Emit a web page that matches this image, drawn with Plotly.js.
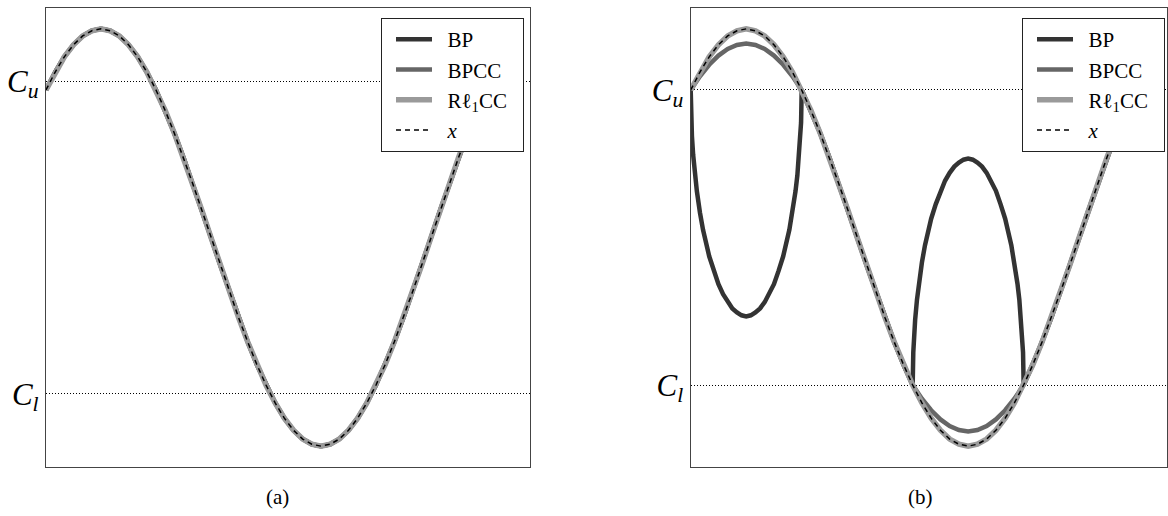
<!DOCTYPE html>
<html>
<head>
<meta charset="utf-8">
<script src="https://cdn.plot.ly/plotly-3.0.1.min.js"></script>
<style>html,body{margin:0;padding:0;background:#fff;}#chart{width:1168px;height:516px;}</style>
</head>
<body>
<div id="chart"></div>
<script>
// phase (degrees) of the sampled signal: one period
const phase = [45,52.5,60,67.5,75,82.5,90,97.5,105,112.5,120,127.5,135,142.5,150,157.5,165,172.5,180,187.5,195,202.5,210,217.5,225,232.5,240,247.5,255,262.5,270,277.5,285,292.5,300,307.5,315,322.5,330,337.5,345,352.5,360,367.5,375,382.5,390,397.5,405];
// true signal x
const xSignal = [0.707,0.793,0.866,0.924,0.966,0.991,1.000,0.991,0.966,0.924,0.866,0.793,0.707,0.609,0.500,0.383,0.259,0.131,0.000,-0.131,-0.259,-0.383,-0.500,-0.609,-0.707,-0.793,-0.866,-0.924,-0.966,-0.991,-1.000,-0.991,-0.966,-0.924,-0.866,-0.793,-0.707,-0.609,-0.500,-0.383,-0.259,-0.131,0.000,0.131,0.259,0.383,0.500,0.609,0.707];
// panel (a): all reconstructions coincide with x
const bpA = [0.707,0.793,0.866,0.924,0.966,0.991,1.000,0.991,0.966,0.924,0.866,0.793,0.707,0.609,0.500,0.383,0.259,0.131,0.000,-0.131,-0.259,-0.383,-0.500,-0.609,-0.707,-0.793,-0.866,-0.924,-0.966,-0.991,-1.000,-0.991,-0.966,-0.924,-0.866,-0.793,-0.707,-0.609,-0.500,-0.383,-0.259,-0.131,0.000,0.131,0.259,0.383,0.500,0.609,0.707];
const bpccA = bpA;
const rl1ccA = bpA;
// panel (b)
const bpccB = [0.707,0.773,0.828,0.872,0.904,0.923,0.930,0.923,0.904,0.872,0.828,0.773,0.707,0.609,0.500,0.383,0.259,0.131,0.000,-0.131,-0.259,-0.383,-0.500,-0.609,-0.707,-0.773,-0.828,-0.872,-0.904,-0.923,-0.930,-0.923,-0.904,-0.872,-0.828,-0.773,-0.707,-0.609,-0.500,-0.383,-0.259,-0.131,0.000,0.131,0.259,0.383,0.500,0.609,0.707];
const rl1ccB = xSignal;
const bpPhaseB = [45,45.5,46,47,48.5,50,52.5,55,60,63.75,67.5,71.25,75,78.75,82.5,86.25,90,93.75,97.5,101.25,105,108.75,112.5,116.25,120,125,127.5,130,131.5,133,134,134.5,135,
  142.5,150,157.5,165,172.5,180,187.5,195,202.5,210,217.5,
  225,225.5,226,227,228.5,230,232.5,235,240,243.75,247.5,251.25,255,258.75,262.5,266.25,270,273.75,277.5,281.25,285,288.75,292.5,296.25,300,305,307.5,310,311.5,313,314,314.5,315,
  322.5,330,337.5,345,352.5,360,367.5,375,382.5,390,397.5,405];
const bpB = [0.707,0.550,0.486,0.395,0.298,0.222,0.119,0.037,-0.090,-0.160,-0.224,-0.272,-0.310,-0.340,-0.359,-0.373,-0.378,-0.373,-0.359,-0.340,-0.310,-0.272,-0.224,-0.160,-0.090,0.037,0.119,0.222,0.298,0.395,0.486,0.550,0.707,
  0.609,0.500,0.383,0.259,0.131,0.000,-0.131,-0.259,-0.383,-0.500,-0.609,
  -0.707,-0.550,-0.486,-0.395,-0.298,-0.222,-0.119,-0.037,0.090,0.160,0.224,0.272,0.310,0.340,0.359,0.373,0.378,0.373,0.359,0.340,0.310,0.272,0.224,0.160,0.090,-0.037,-0.119,-0.222,-0.298,-0.395,-0.486,-0.550,-0.707,
  -0.609,-0.500,-0.383,-0.259,-0.131,0.000,0.131,0.259,0.383,0.500,0.609,0.707];
// clipping levels and labels
const clipA = [-0.75, 0.75];
const clipB = [-0.707, 0.707];
const clipLabels = ['<i>C<sub>l</sub></i>', '<i>C<sub>u</sub></i>'];
const seriesNames = ['BP', 'BPCC', 'R\u2113<sub>1</sub>CC', '<i>x</i>'];
const panelLabels = ['(a)', '(b)'];

const serif = '"Liberation Serif", "Times New Roman", Times, "DejaVu Serif", serif';
const pad = '\u00a0\u00a0';
const styles = [
  {color: '#333333', width: 4.5},
  {color: '#666666', width: 4.5},
  {color: '#9a9a9a', width: 5.5},
  {color: '#000000', width: 1.5, dash: '5px,4px'}
];
function mk(xs, ys, i, ax, lg) {
  return {x: xs, y: ys, type: 'scatter', mode: 'lines', name: pad + seriesNames[i] + pad,
    line: Object.assign({shape: 'linear'}, styles[i]),
    xaxis: ax[0], yaxis: ax[1], legend: lg, showlegend: true, hoverinfo: 'skip'};
}
const A = ['x', 'y'], B = ['x2', 'y2'];
const data = [
  mk(phase, bpA, 0, A, 'legend'),
  mk(phase, bpccA, 1, A, 'legend'),
  mk(phase, rl1ccA, 2, A, 'legend'),
  mk(phase, xSignal, 3, A, 'legend'),
  mk(bpPhaseB, bpB, 0, B, 'legend2'),
  mk(phase, bpccB, 1, B, 'legend2'),
  mk(phase, rl1ccB, 2, B, 'legend2'),
  mk(phase, xSignal, 3, B, 'legend2')
];
const W = 1168, H = 516;
const yDom = [1 - 467 / H, 1 - 8 / H];
function xax(dom, rng) {
  return {domain: dom, range: rng, showline: true, mirror: true, linecolor: '#444', linewidth: 1.2,
    showticklabels: false, showgrid: false, zeroline: false, ticks: ''};
}
function yax(anchor, vals) {
  return {domain: yDom, range: [-1.1, 1.1], anchor: anchor, tickvals: vals, ticktext: clipLabels,
    showline: true, mirror: true, linecolor: '#444', linewidth: 1.2,
    showgrid: true, gridcolor: '#000', gridwidth: 1, griddash: '1px,2px', zeroline: false, ticks: '',
    tickfont: {family: serif, size: 31, color: '#000'}, automargin: false};
}
function leg(xr) {
  return {x: xr, xanchor: 'right', y: 1 - 18 / H, yanchor: 'top', bgcolor: '#fff', bordercolor: '#222', borderwidth: 1,
    font: {family: serif, size: 21, color: '#000'}, itemwidth: 36, indentation: 9, traceorder: 'normal'};
}
const layout = {
  width: W, height: H, margin: {l: 0, r: 0, t: 0, b: 0}, paper_bgcolor: '#fff', plot_bgcolor: '#fff',
  showlegend: true,
  xaxis: xax([46 / W, 530 / W], [45, 441]),
  yaxis: yax('x', clipA),
  xaxis2: xax([690.7 / W, 1166.7 / W], [45, 431]),
  yaxis2: yax('x2', clipB),
  legend: leg(524 / W),
  legend2: leg(1165 / W),
  annotations: [
    {text: panelLabels[0], x: 277 / W, y: 1 - 497 / H, xref: 'paper', yref: 'paper', xanchor: 'center', yanchor: 'middle', showarrow: false, font: {family: serif, size: 21, color: '#000'}},
    {text: panelLabels[1], x: 920 / W, y: 1 - 497 / H, xref: 'paper', yref: 'paper', xanchor: 'center', yanchor: 'middle', showarrow: false, font: {family: serif, size: 21, color: '#000'}}
  ]
};
Plotly.newPlot('chart', data, layout, {staticPlot: true});
</script>
</body>
</html>
